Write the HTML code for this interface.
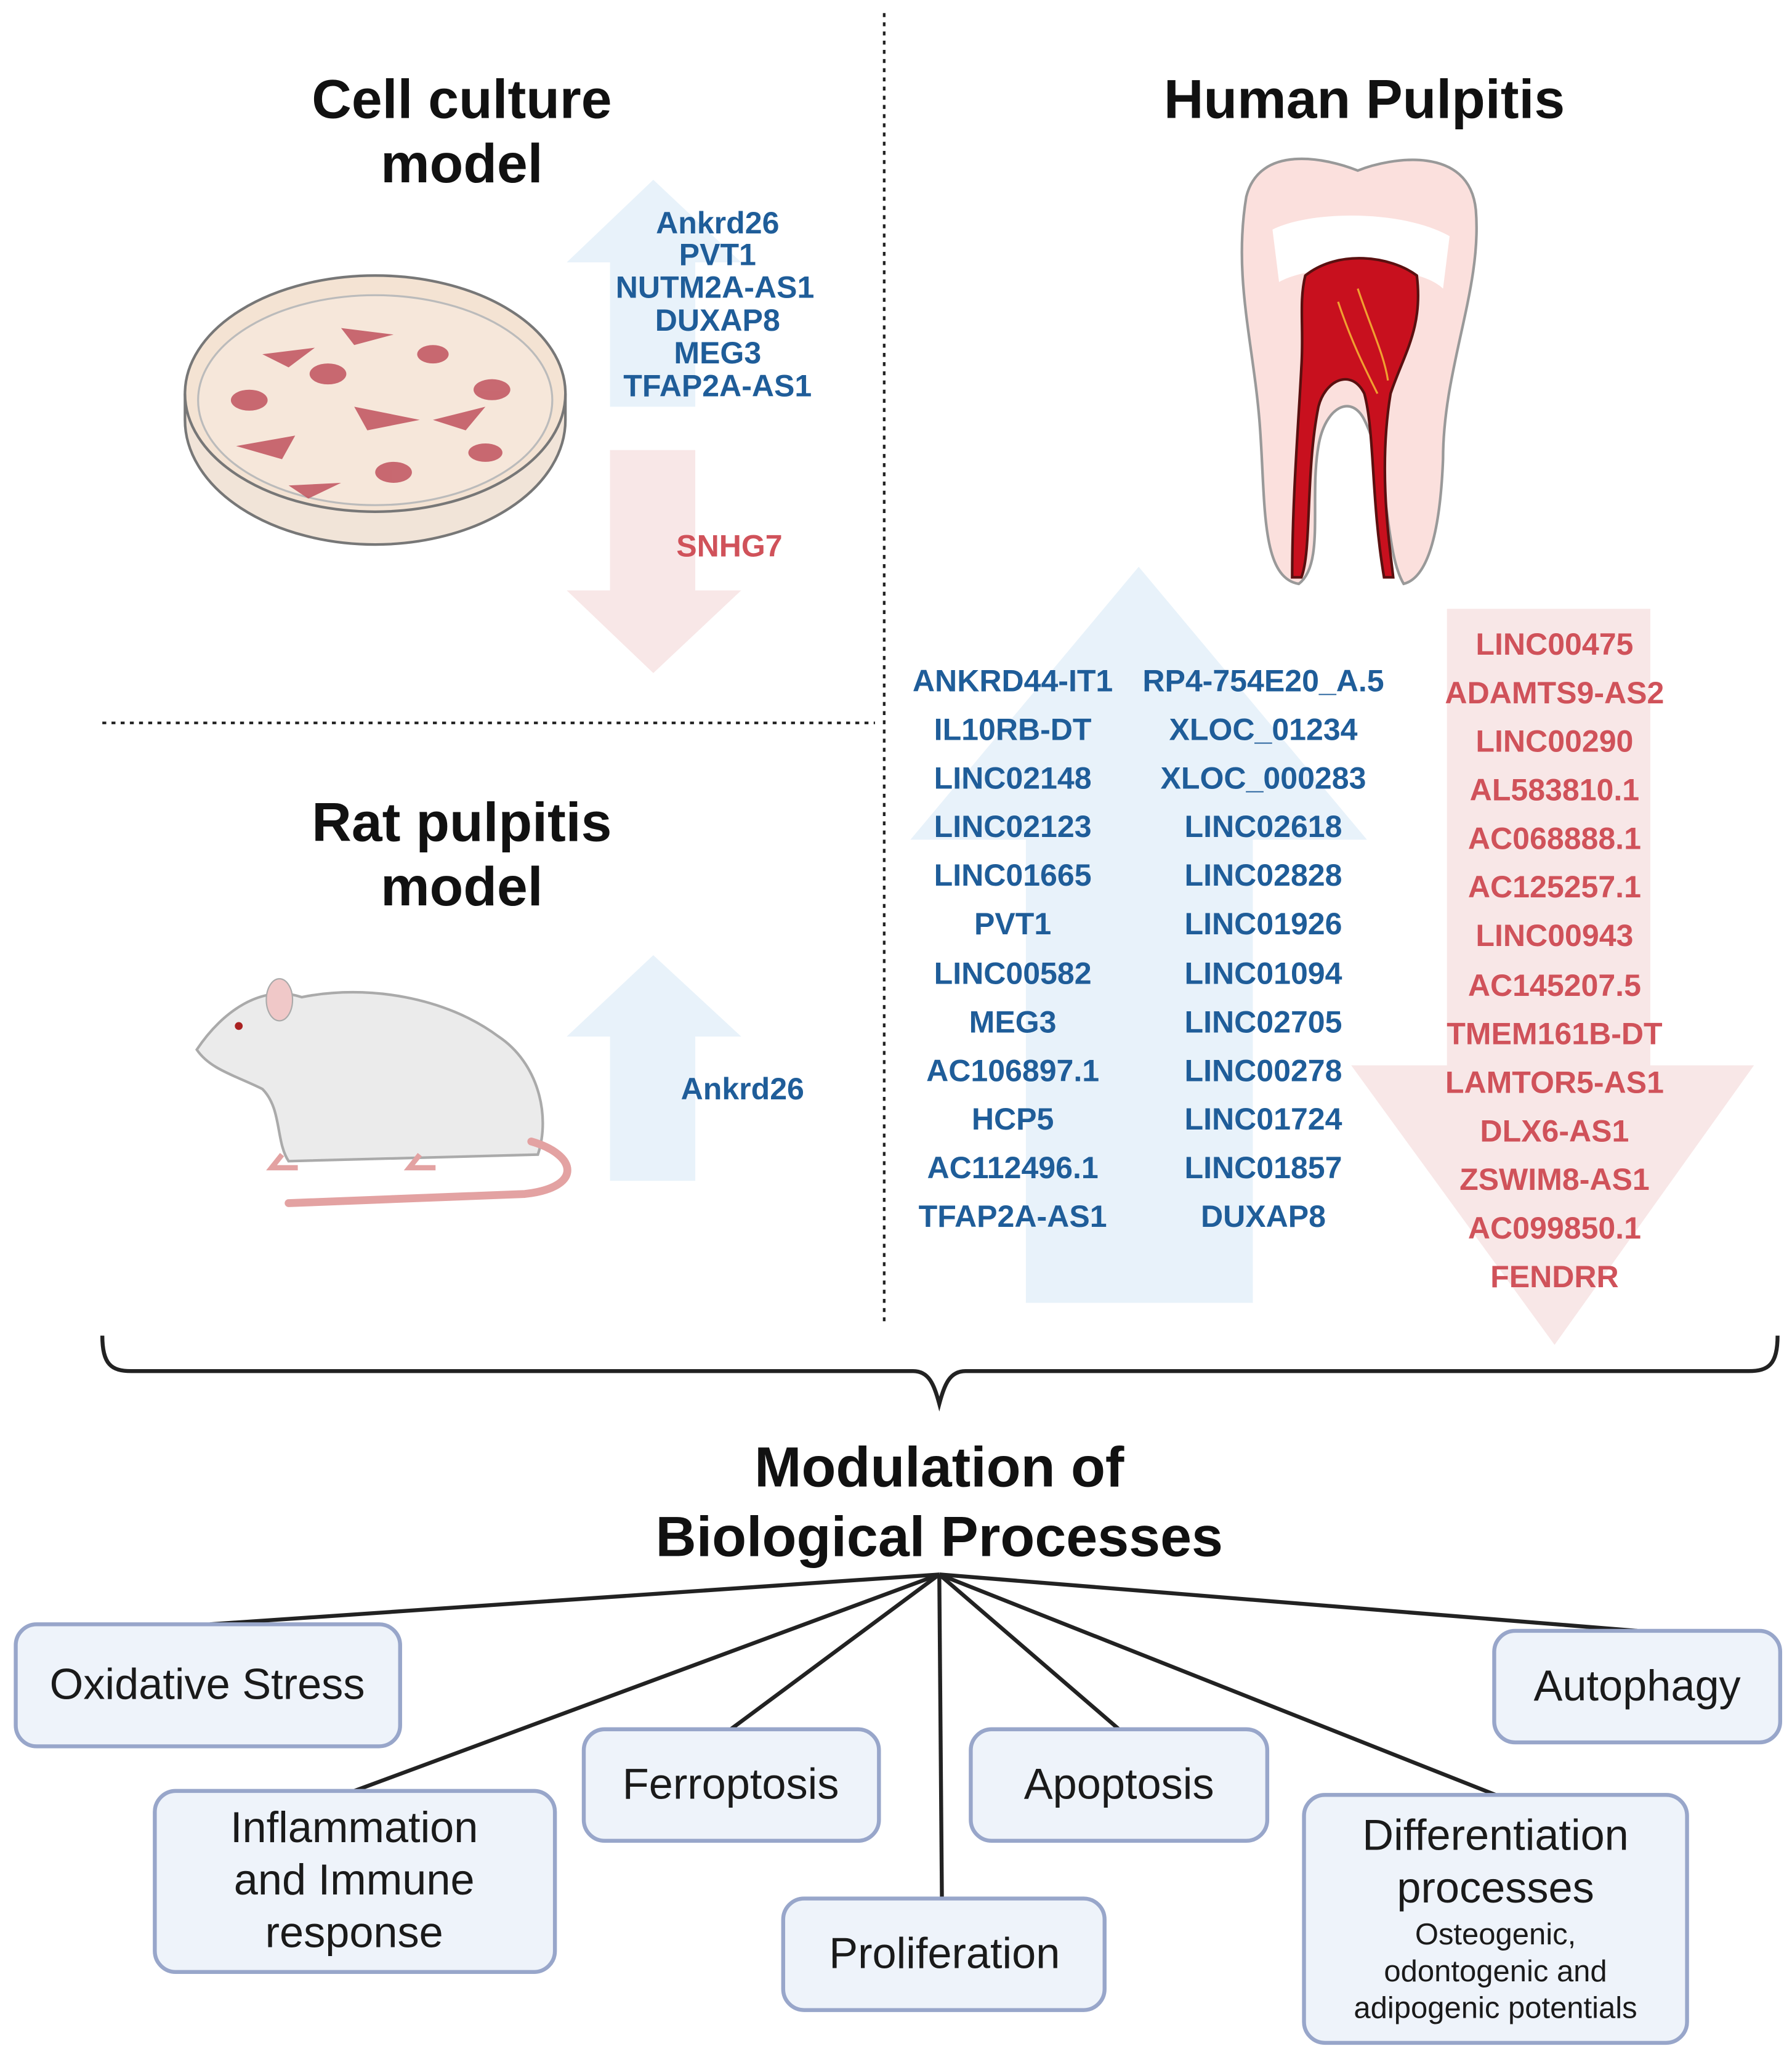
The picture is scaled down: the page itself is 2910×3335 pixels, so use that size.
<!DOCTYPE html>
<html><head><meta charset="utf-8"><style>
html,body{margin:0;padding:0;background:#fff}
svg{display:block}
text{font-family:"Liberation Sans",sans-serif}
.t{font-weight:bold;font-size:42px;fill:#111;text-anchor:middle}
.b{font-weight:bold;font-size:23.5px;fill:#1f5d99;text-anchor:middle}
.r{font-weight:bold;font-size:23.5px;fill:#d0525a;text-anchor:middle}
.bx{fill:#eef3fa;stroke:#98a6ca;stroke-width:3}
.bt{font-size:33px;fill:#1a1a1a;text-anchor:middle}
</style></head><body>
<svg width="2910" height="3335" viewBox="0 0 1366 1565.5" preserveAspectRatio="none" xmlns="http://www.w3.org/2000/svg">
<rect width="1366" height="1566" fill="#fff"/>
<line x1="674" y1="10" x2="674" y2="1010" stroke="#222" stroke-width="2" stroke-dasharray="3,4"/>
<line x1="78" y1="551" x2="667" y2="551" stroke="#222" stroke-width="2" stroke-dasharray="3,4"/>
<text class="t" x="352" y="90">Cell culture</text>
<text class="t" x="352" y="139">model</text>
<text class="t" x="1040" y="90">Human Pulpitis</text>
<text class="t" x="352" y="641">Rat pulpitis</text>
<text class="t" x="352" y="690">model</text>
<polygon points="465,310 465,200 432,200 498,137 565,200 530,200 530,310" fill="#e8f2fa"/>
<polygon points="465,343 530,343 530,450 565,450 498,513 432,450 465,450" fill="#f8e7e7"/>
<text class="b" x="547" y="178">Ankrd26</text>
<text class="b" x="547" y="202">PVT1</text>
<text class="b" x="545" y="227">NUTM2A-AS1</text>
<text class="b" x="547" y="252">DUXAP8</text>
<text class="b" x="547" y="277">MEG3</text>
<text class="b" x="547" y="302">TFAP2A-AS1</text>
<text class="r" x="556" y="424">SNHG7</text>
<path d="M141,300 L141,320 A145,95 0 0 0 431,320 L431,300" fill="#f1e4d8" stroke="#777" stroke-width="2"/>
<ellipse cx="286" cy="300" rx="145" ry="90" fill="#f4e3d3" stroke="#777" stroke-width="2"/>
<ellipse cx="286" cy="305" rx="135" ry="80" fill="#f6e7da" stroke="#bbb" stroke-width="1.5"/>
<g fill="#c0525e" opacity="0.85">
<ellipse cx="190" cy="305" rx="14" ry="8"/><ellipse cx="250" cy="285" rx="14" ry="8"/><ellipse cx="375" cy="297" rx="14" ry="8"/>
<ellipse cx="300" cy="360" rx="14" ry="8"/><ellipse cx="330" cy="270" rx="12" ry="7"/><ellipse cx="370" cy="345" rx="13" ry="7"/>
<path d="M200,270 l40,-5 l-20,15z"/><path d="M270,310 l50,10 l-40,8z"/><path d="M180,340 l45,-8 l-10,18z"/>
<path d="M220,370 l40,-2 l-25,12z"/><path d="M330,320 l40,-10 l-15,18z"/><path d="M260,250 l40,5 l-30,8z"/>
</g>
<path d="M950,150 C960,110 1010,120 1035,130 C1060,120 1120,110 1125,160 C1130,220 1100,280 1100,350 C1098,400 1090,440 1070,445 C1055,420 1060,360 1040,320 C1030,300 1010,310 1005,340 C998,380 1010,430 990,445 C960,440 965,380 960,320 C955,260 940,210 950,150z" fill="#fbe0dd" stroke="#999" stroke-width="2"/>
<path d="M970,175 C1000,160 1070,160 1105,180 L1100,220 C1080,200 1000,200 975,215z" fill="#fff"/>
<path d="M995,210 C1020,190 1060,195 1080,210 C1085,250 1070,270 1060,300 C1050,360 1060,420 1062,440 L1055,440 C1045,380 1048,330 1040,300 C1030,280 1010,290 1005,310 C995,360 1000,420 992,440 L985,440 C985,380 990,320 992,280 C994,250 990,230 995,210z" fill="#c8101e" stroke="#5a1010" stroke-width="2"/>
<path d="M1020,230 C1030,260 1040,280 1050,300 M1035,220 C1045,250 1055,270 1058,290" stroke="#f0a030" stroke-width="1.5" fill="none"/>
<path d="M150,800 C170,770 200,750 230,760 C280,750 340,760 380,790 C410,810 420,850 410,880 L220,885 C210,870 215,845 200,830 C180,820 160,815 150,800z" fill="#ebebeb" stroke="#aaa" stroke-width="2"/>
<path d="M215,880 l-8,10 l20,0 M320,880 l-8,10 l20,0" stroke="#e3a2a2" stroke-width="4" fill="none"/>
<ellipse cx="213" cy="762" rx="10" ry="16" fill="#f0c8c8" stroke="#aaa"/>
<circle cx="182" cy="782" r="3" fill="#a22"/>
<path d="M405,870 C440,880 445,905 400,910 L220,917" fill="none" stroke="#e3a2a2" stroke-width="6" stroke-linecap="round"/>
<polygon points="465,900 465,790 432,790 498,728 565,790 530,790 530,900" fill="#e8f2fa"/>
<text class="b" x="566" y="838">Ankrd26</text>
<polygon points="782,993 782,640 694,640 868,432 1042,640 955,640 955,993" fill="#e8f2fa"/>
<polygon points="1103,464 1258,464 1258,812 1337,812 1185,1025 1030,812 1103,812" fill="#f8e7e7"/>
<text class="b" x="772" y="527">ANKRD44-IT1</text><text class="b" x="963" y="527">RP4-754E20_A.5</text>
<text class="b" x="772" y="564">IL10RB-DT</text><text class="b" x="963" y="564">XLOC_01234</text>
<text class="b" x="772" y="601">LINC02148</text><text class="b" x="963" y="601">XLOC_000283</text>
<text class="b" x="772" y="638">LINC02123</text><text class="b" x="963" y="638">LINC02618</text>
<text class="b" x="772" y="675">LINC01665</text><text class="b" x="963" y="675">LINC02828</text>
<text class="b" x="772" y="712">PVT1</text><text class="b" x="963" y="712">LINC01926</text>
<text class="b" x="772" y="750">LINC00582</text><text class="b" x="963" y="750">LINC01094</text>
<text class="b" x="772" y="787">MEG3</text><text class="b" x="963" y="787">LINC02705</text>
<text class="b" x="772" y="824">AC106897.1</text><text class="b" x="963" y="824">LINC00278</text>
<text class="b" x="772" y="861">HCP5</text><text class="b" x="963" y="861">LINC01724</text>
<text class="b" x="772" y="898">AC112496.1</text><text class="b" x="963" y="898">LINC01857</text>
<text class="b" x="772" y="935">TFAP2A-AS1</text><text class="b" x="963" y="935">DUXAP8</text>
<text class="r" x="1185" y="499">LINC00475</text>
<text class="r" x="1185" y="536">ADAMTS9-AS2</text>
<text class="r" x="1185" y="573">LINC00290</text>
<text class="r" x="1185" y="610">AL583810.1</text>
<text class="r" x="1185" y="647">AC068888.1</text>
<text class="r" x="1185" y="684">AC125257.1</text>
<text class="r" x="1185" y="721">LINC00943</text>
<text class="r" x="1185" y="759">AC145207.5</text>
<text class="r" x="1185" y="796">TMEM161B-DT</text>
<text class="r" x="1185" y="833">LAMTOR5-AS1</text>
<text class="r" x="1185" y="870">DLX6-AS1</text>
<text class="r" x="1185" y="907">ZSWIM8-AS1</text>
<text class="r" x="1185" y="944">AC099850.1</text>
<text class="r" x="1185" y="981">FENDRR</text>
<path d="M78,1018 C78,1040 85,1045 100,1045 L696,1045 C708,1045 712,1055 716,1070 C720,1055 724,1045 736,1045 L1333,1045 C1348,1045 1355,1040 1355,1018" fill="none" stroke="#222" stroke-width="3"/>
<text class="t" x="716" y="1133" style="font-size:43px">Modulation of</text>
<text class="t" x="716" y="1186" style="font-size:43px">Biological Processes</text>
<g stroke="#222" stroke-width="3">
<line x1="716" y1="1200" x2="160" y2="1238"/>
<line x1="716" y1="1200" x2="270" y2="1365"/>
<line x1="716" y1="1200" x2="557" y2="1318"/>
<line x1="716" y1="1200" x2="718" y2="1448"/>
<line x1="716" y1="1200" x2="853" y2="1318"/>
<line x1="716" y1="1200" x2="1140" y2="1368"/>
<line x1="716" y1="1200" x2="1248" y2="1243"/>
</g>
<rect class="bx" x="12" y="1238" width="293" height="93" rx="16"/>
<text class="bt" x="158" y="1295">Oxidative Stress</text>
<rect class="bx" x="118" y="1365" width="305" height="138" rx="16"/>
<text class="bt" x="270" y="1404">Inflammation</text><text class="bt" x="270" y="1444">and Immune</text><text class="bt" x="270" y="1484">response</text>
<rect class="bx" x="445" y="1318" width="225" height="85" rx="16"/>
<text class="bt" x="557" y="1371">Ferroptosis</text>
<rect class="bx" x="597" y="1447" width="245" height="85" rx="16"/>
<text class="bt" x="720" y="1500">Proliferation</text>
<rect class="bx" x="740" y="1318" width="226" height="85" rx="16"/>
<text class="bt" x="853" y="1371">Apoptosis</text>
<rect class="bx" x="994" y="1368" width="292" height="189" rx="16"/>
<text class="bt" x="1140" y="1410">Differentiation</text><text class="bt" x="1140" y="1450">processes</text>
<text class="bt" x="1140" y="1482" style="font-size:23px">Osteogenic,</text>
<text class="bt" x="1140" y="1510" style="font-size:23px">odontogenic and</text>
<text class="bt" x="1140" y="1538" style="font-size:23px">adipogenic potentials</text>
<rect class="bx" x="1139" y="1243" width="218" height="85" rx="16"/>
<text class="bt" x="1248" y="1296">Autophagy</text>
</svg>
</body></html>
